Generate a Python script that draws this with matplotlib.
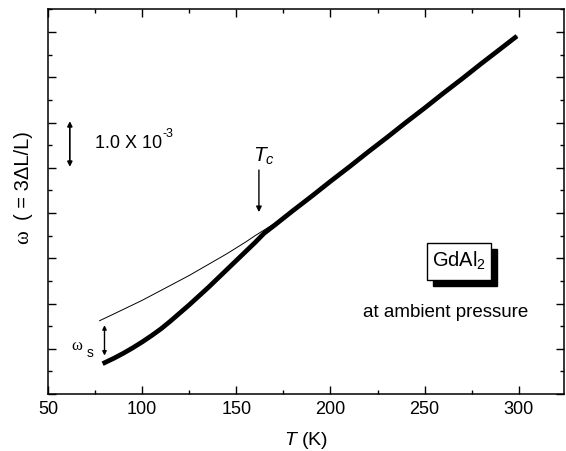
import matplotlib
matplotlib.use("Agg")
import matplotlib.pyplot as plt
from matplotlib.patches import Rectangle

plt.rcParams['font.family'] = ['Liberation Sans', 'DejaVu Sans']
plt.rcParams['mathtext.fontset'] = 'custom'
plt.rcParams['mathtext.rm'] = 'Liberation Sans'
plt.rcParams['mathtext.it'] = 'Liberation Sans:italic'

# thick curve: measured omega (units of 1e-3, arbitrary offset)
T_meas = [79, 85, 90, 95, 100, 105, 110, 115, 120, 125, 130, 135, 140, 145, 150, 155,
          160, 164.7, 170, 180, 190, 200, 210, 220, 230, 240, 250, 260, 270, 280, 290, 299]
w_meas = [0.67, 0.79, 0.90, 1.02, 1.15, 1.29, 1.44, 1.61, 1.79, 1.97, 2.16, 2.35, 2.55,
          2.75, 2.95, 3.15, 3.35, 3.55, 3.72, 4.05, 4.37, 4.70, 5.02, 5.35, 5.67, 6.00,
          6.32, 6.65, 6.97, 7.30, 7.62, 7.91]
# thin curve: nonmagnetic background
T_bg = [77.4, 85, 90, 95, 100, 105, 110, 115, 120, 125, 130, 135, 140, 145, 150, 155,
        160, 165, 170, 175, 180, 190, 200, 210, 220, 230, 240, 250, 260, 270, 280, 290, 299]
w_bg = [1.62, 1.77, 1.87, 1.97, 2.07, 2.18, 2.29, 2.40, 2.51, 2.62, 2.74, 2.86, 2.98,
        3.10, 3.23, 3.36, 3.50, 3.63, 3.76, 3.89, 4.05, 4.37, 4.70, 5.02, 5.35, 5.67,
        6.00, 6.32, 6.65, 6.97, 7.30, 7.62, 7.91]

xticks = [50, 100, 150, 200, 250, 300]
xminor = [75, 125, 175, 225, 275]

fig = plt.figure(figsize=(5.66, 4.52), dpi=100)
ax = fig.add_axes([48/566, (452-395)/452, (564-48)/566, (395-9.5)/452])

ax.plot(T_bg, w_bg, color='black', lw=0.7)
ax.plot(T_meas, w_meas, color='black', lw=3.4, solid_capstyle='butt', solid_joinstyle='round')

ax.set_xlim(50, 324)
ax.set_ylim(0, 8.52)
ax.set_xticks(xticks)
ax.set_xticks(xminor, minor=True)
ax.set_yticks(range(0, 9))
ax.set_yticks([0.5 + i for i in range(9)], minor=True)
ax.set_yticklabels([])
ax.tick_params(which='both', direction='in', top=True, right=True, width=1)
ax.tick_params(which='major', length=6)
ax.tick_params(which='minor', length=3)
ax.tick_params(axis='x', labelsize=13, pad=4)
for s in ax.spines.values():
    s.set_linewidth(1.1)

ax.set_xlabel('$T$ (K)', fontsize=14, labelpad=9)

# y label
ax.text(-0.048, 0.41, 'ω', rotation=90, transform=ax.transAxes, ha='center', va='center',
        fontsize=15, family='Liberation Serif')
ax.text(-0.048, 0.57, '( = 3ΔL/L)', rotation=90, transform=ax.transAxes, ha='center',
        va='center', fontsize=14.5)

# scale bar
ax.annotate('', xy=(61.6, 6.03), xytext=(61.6, 5.02),
            arrowprops=dict(arrowstyle='<|-|>', color='black', lw=1.2, mutation_scale=7,
                            shrinkA=0, shrinkB=0))
t_scale = ax.text(75, 5.55, '1.0 X 10', fontsize=13, ha='left', va='center')
ax.annotate('-3', xy=(1, 0.72), xycoords=t_scale, xytext=(0.5, 0), textcoords='offset points',
            fontsize=9, ha='left', va='bottom')

# omega_s
ax.annotate('', xy=(80, 1.52), xytext=(80, 0.85),
            arrowprops=dict(arrowstyle='<|-|>', color='black', lw=1.0, mutation_scale=6,
                            shrinkA=0, shrinkB=0))
ax.text(65.5, 1.08, 'ω', fontsize=12, family='Liberation Serif', ha='center', va='center')
ax.text(72.3, 0.93, 's', fontsize=10, ha='center', va='center')

# Tc arrow
ax.annotate('', xy=(162, 4.02), xytext=(162, 4.95),
            arrowprops=dict(arrowstyle='-|>', color='black', lw=1.0, mutation_scale=8,
                            shrinkA=0, shrinkB=0))
ax.text(164.5, 5.28, '$T_c$', fontsize=15, ha='center', va='center')

# GdAl2 box with shadow
bx0, bx1, by0, by1 = 251, 285, 2.52, 3.34
ax.add_patch(Rectangle((bx0 + 3.2, by0 - 0.13), bx1 - bx0, by1 - by0, facecolor='black',
                       edgecolor='black', zorder=3))
ax.add_patch(Rectangle((bx0, by0), bx1 - bx0, by1 - by0, facecolor='white',
                       edgecolor='black', lw=1.0, zorder=4))
ax.text((bx0 + bx1) / 2, (by0 + by1) / 2 + 0.03, 'GdAl$_{\\mathregular{2}}$', fontsize=14.5,
        ha='center', va='center', zorder=5)
ax.text(261, 1.83, 'at ambient pressure', fontsize=13.5, ha='center', va='center')

fig.savefig('out.png', dpi=100)
